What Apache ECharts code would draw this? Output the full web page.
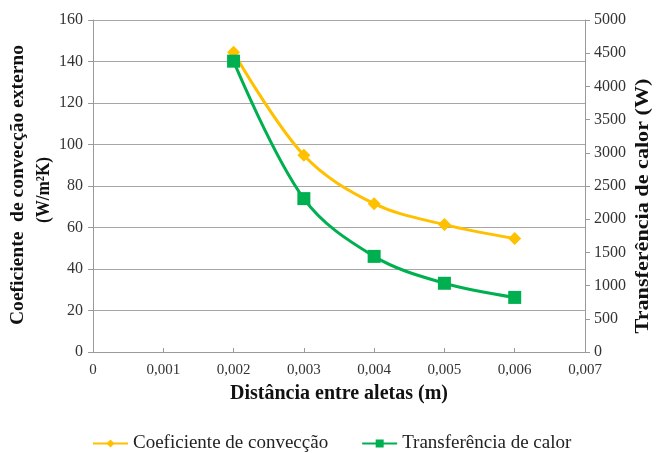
<!DOCTYPE html>
<html><head><meta charset="utf-8">
<script src="https://cdn.jsdelivr.net/npm/echarts@6/dist/echarts.min.js"></script>
<style>html,body{margin:0;padding:0;background:#fff}#c{width:657px;height:453px}</style>
</head><body><div id="c"></div>
<script>
const distancias = [0.002, 0.003, 0.004, 0.005, 0.006];
const coeficiente = [144.5, 94.8, 71.5, 61.4, 54.7];
const transferencia = [4380, 2310, 1440, 1035, 822];
const serieNomes = ['Coeficiente de convecção', 'Transferência de calor'];
const tituloEsq1 = 'Coeficiente  de convecção externo';
const tituloEsq2 = '(W/m²K)';
const tituloDir = 'Transferência de calor (W)';
const tituloX = 'Distância entre aletas (m)';

const F = '"Liberation Serif", "Times New Roman", serif';
const TF = 'bold 19px "Liberation Serif", "Times New Roman", serif';
const cv = document.createElement('canvas').getContext('2d');
cv.font = TF;
function stretched(text, cx, cy, len) {
  const w = cv.measureText(text).width;
  return {
    type: 'text', x: cx, y: cy, rotation: Math.PI / 2, scaleX: len / w, scaleY: 1,
    style: {text: text, font: TF, fill: '#111', align: 'center', verticalAlign: 'middle'}
  };
}
const chart = echarts.init(document.getElementById('c'), null, {renderer: 'canvas'});
const fmt = v => String(+v.toFixed(3)).replace('.', ',');
chart.setOption({
  animation: false,
  grid: {left: 93, right: 72, top: 20, bottom: 101, containLabel: false, outerBoundsMode: 'none'},
  legend: {
    top: 429, left: 87, itemGap: 33, itemWidth: 35, itemHeight: 10,
    textStyle: {fontFamily: F, fontSize: 19, color: '#222'},
    data: serieNomes
  },
  graphic: [
    stretched(tituloEsq1, 18, 185, 280),
    stretched(tituloEsq2, 44, 190, 66),
    stretched(tituloDir, 643, 206, 255)
  ],
  xAxis: {
    type: 'value', min: 0, max: 0.007, interval: 0.001,
    name: tituloX, nameLocation: 'middle', nameGap: 32,
    nameTextStyle: {fontFamily: F, fontSize: 20, fontWeight: 'bold', color: '#111'},
    axisLine: {show: true, lineStyle: {color: '#9a9a9a'}},
    axisTick: {show: true, inside: true, length: 4, lineStyle: {color: '#9a9a9a'}},
    axisLabel: {fontFamily: F, fontSize: 15, color: '#333', margin: 11, formatter: fmt},
    splitLine: {show: false}
  },
  yAxis: [{
    type: 'value', min: 0, max: 160, interval: 20, position: 'left',
    axisLine: {show: true, lineStyle: {color: '#9a9a9a'}},
    axisTick: {show: true, length: 5, lineStyle: {color: '#9a9a9a'}},
    axisLabel: {fontFamily: F, fontSize: 16, color: '#333', margin: 10},
    splitLine: {show: true, lineStyle: {color: '#a6a6a6', width: 1}}
  }, {
    type: 'value', min: 0, max: 5000, interval: 500, position: 'right',
    axisLine: {show: true, lineStyle: {color: '#9a9a9a'}},
    axisTick: {show: true, length: 5, lineStyle: {color: '#9a9a9a'}},
    axisLabel: {fontFamily: F, fontSize: 16, color: '#333', margin: 9, formatter: v => String(v)},
    splitLine: {show: false}
  }],
  series: [{
    name: serieNomes[0], type: 'line', yAxisIndex: 0, smooth: 0.35,
    data: distancias.map((d, i) => [d, coeficiente[i]]),
    symbol: 'diamond', symbolSize: 13,
    lineStyle: {color: '#FFC000', width: 3},
    itemStyle: {color: '#FFC000'}, z: 3
  }, {
    name: serieNomes[1], type: 'line', yAxisIndex: 1, smooth: 0.35,
    data: distancias.map((d, i) => [d, transferencia[i]]),
    symbol: 'rect', symbolSize: 13,
    lineStyle: {color: '#00B050', width: 3},
    itemStyle: {color: '#00B050'}, z: 4
  }]
});
</script></body></html>
